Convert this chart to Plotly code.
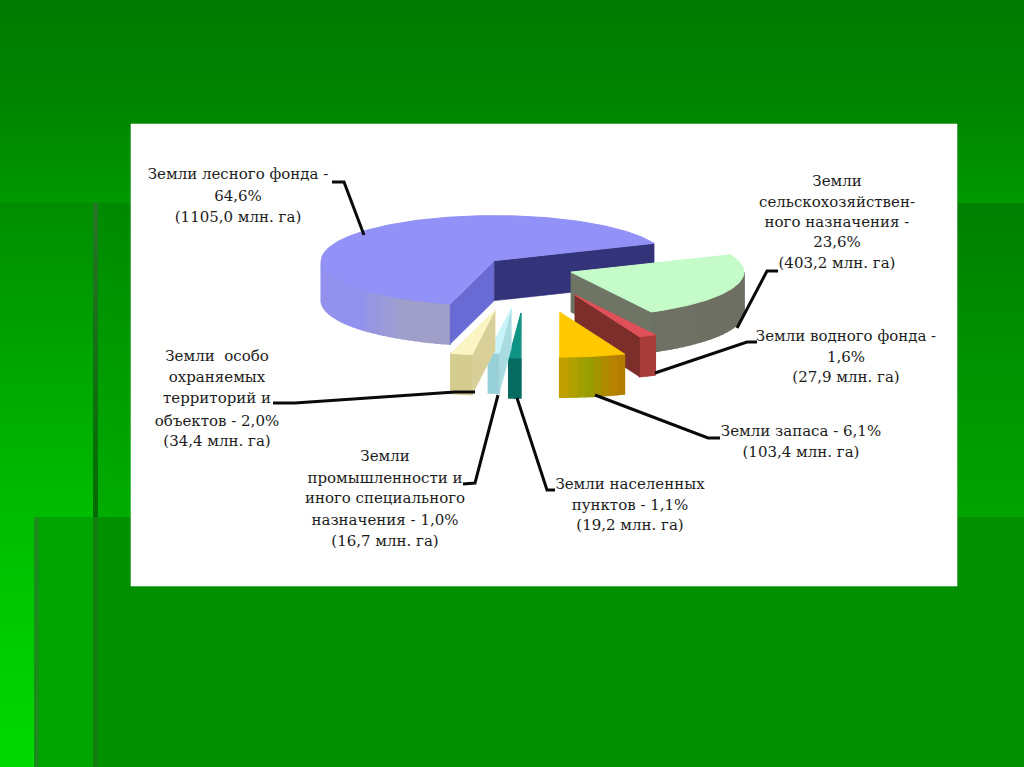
import numpy as np
import plotly.graph_objects as go

# ---------- data ----------
CATEGORIES = ["Земли лесного фонда", "Земли сельскохозяйственного назначения", "Земли водного фонда",
              "Земли запаса", "Земли населенных пунктов",
              "Земли промышленности и иного специального назначения",
              "Земли особо охраняемых территорий и объектов"]
PERCENT = [64.6, 23.6, 1.6, 6.1, 1.1, 1.0, 2.0]
AREA_MHA = [1105.0, 403.2, 27.9, 103.4, 19.2, 16.7, 34.4]
EXPLODE = [0.25, 0.27, 0.66, 1.0, 1.0, 0.9, 0.95]

LABEL_LINES = [
    ["Земли лесного фонда -", "64,6%", "(1105,0 млн. га)"],
    ["Земли", "сельскохозяйствен-", "ного назначения -", "23,6%", "(403,2 млн. га)"],
    ["Земли водного фонда -", "1,6%", "(27,9 млн. га)"],
    ["Земли запаса - 6,1%", "(103,4 млн. га)"],
    ["Земли населенных", "пунктов - 1,1%", "(19,2 млн. га)"],
    ["Земли", "промышленности и", "иного специального", "назначения - 1,0%", "(16,7 млн. га)"],
    ["Земли  особо", "охраняемых", "территорий и", "объектов - 2,0%", "(34,4 млн. га)"],
]

# ---------- layout of the picture (pixel-scaled axes) ----------
W, H = 1024, 767
PANEL = (131, 124, 957, 586)
CX, CY, RX, RY, DEPTH = 527, 268, 173, 45, 40
FIRST_ANGLE = 194.8   # clockwise from north, where the first slice starts

LABEL_POS = [
    (238, [175, 197, 218]),
    (837, [182, 203, 223, 243, 264]),
    (846, [337, 358, 378]),
    (801, [432, 453]),
    (630, [485, 506, 526]),
    (385, [457, 479, 499, 521, 542]),
    (217, [357, 378, 399, 422, 442]),
]
LEADERS = [
    ([332, 344, 364], [182, 182, 235]),
    ([778, 767, 737], [271, 271, 328]),
    ([757, 747, 655], [342, 342, 373]),
    ([720, 708, 595], [438, 438, 395]),
    ([555, 547, 517], [490, 490, 398]),
    ([463, 475, 498], [484, 483, 395]),
    ([273, 295, 455, 475], [403, 403, 392, 392]),
]

# top, face at start angle, face at end angle, wall stops (angle, colour)
STYLE = [
    dict(top="#9191f7", f1="#6a6ad4", f2="#33337a",
         wall=[(194, (158, 158, 200)), (212, (160, 160, 205)), (232, (146, 146, 238)), (300, (146, 146, 238))]),
    dict(top="#c4fbc8", f1="#6e6e62", f2="#6f7565",
         wall=[(60, (110, 110, 98)), (160, (112, 114, 102))]),
    dict(top="#e05058", f1="#7c2e2a", f2="#7c2e2a",
         wall=[(150, (168, 60, 56)), (160, (168, 60, 56))]),
    dict(top="#ffc800", f1="#c09000", f2="#c09000",
         wall=[(156, (176, 120, 0)), (163, (184, 132, 0)), (171, (150, 160, 0)), (180, (200, 160, 0))]),
    dict(top="#0e9484", f1="#066b60", f2="#066b60",
         wall=[(178, (6, 107, 96)), (186, (6, 107, 96))]),
    dict(top="#c8f4f8", f1="#a8dce0", f2="#a8dce0",
         wall=[(182, (152, 208, 216)), (190, (152, 208, 216))]),
    dict(top="#fbf5c4", f1="#d8d098", f2="#d8d098",
         wall=[(186, (212, 204, 144)), (196, (212, 204, 144))]),
]


def background():
    yy, xx = np.mgrid[0:H, 0:W].astype(float)
    g = np.interp(yy, [0, 100, 300, 500, 767], [122, 128, 156, 187, 218])
    r = np.zeros_like(g)
    b = np.zeros_like(g)
    # second panel
    m1 = (xx >= 93) & (yy >= 203)
    g1 = np.interp(yy, [203, 517], [128, 164]) + np.interp(xx, [93, 300], [10, 0])
    g = np.where(m1, g1, g)
    # top band on the right is a touch lighter than the far top
    m = (yy < 203)
    g = np.where(m, g + np.interp(yy, [0, 203], [0, 10]), g)
    # third panel
    g = np.where((xx >= 34) & (xx < 93) & (yy >= 517), 164, g)
    g = np.where((xx >= 93) & (yy >= 517), 144, g)
    # bevels
    s = (xx >= 93) & (xx < 98) & (yy >= 203) & (yy < 517)
    g = np.where(s, np.interp(yy, [203, 517], [118, 108]), g)
    r = np.where(s, np.interp(yy, [203, 517], [40, 0]), r)
    b = np.where(s, np.interp(yy, [203, 517], [40, 0]), b)
    s = (xx >= 34) & (xx < 39) & (yy >= 517)
    g = np.where(s, 140, g); r = np.where(s, 26, r); b = np.where(s, 26, b)
    s = (xx >= 93) & (xx < 98) & (yy >= 517)
    g = np.where(s, 126, g); r = np.where(s, 18, r); b = np.where(s, 18, b)
    return np.dstack([r, g, b]).astype(np.uint8)


def rim(theta, ox, oy, dz=0.0):
    t = np.radians(theta)
    return ox + RX * np.sin(t), oy - RY * np.cos(t) + dz


def polygon(xs, ys, color, name=None, lw=0.6):
    return go.Scatter(x=list(xs), y=list(ys), mode="lines", fill="toself", fillcolor=color,
                      line=dict(color=color, width=lw), hoverinfo="skip", showlegend=False, name=name)


def blend(stops, a):
    ang = [s[0] for s in stops]
    rgb = [np.interp(a, ang, [s[1][i] for s in stops]) for i in range(3)]
    return "rgb(%d,%d,%d)" % tuple(rgb)


fig = go.Figure()
fig.add_trace(go.Image(z=background(), x0=0.5, y0=0.5, dx=1, dy=1, hoverinfo="skip"))
x0, y0, x1, y1 = PANEL
fig.add_trace(polygon([x0, x1, x1, x0, x0], [y0, y0, y1, y1, y0], "#ffffff", "panel"))

total = sum(PERCENT)
start = FIRST_ANGLE
for pct, expl, st, cat in zip(PERCENT, EXPLODE, STYLE, CATEGORIES):
    sweep = 360.0 * pct / total
    end = start + sweep
    mid = np.radians((start + end) / 2)
    ox = CX + expl * RX * np.sin(mid)
    oy = CY - expl * RY * np.cos(mid)

    # outer wall: the front part of the arc, in short pieces so that its shade can change
    a0, a1 = max(start, 90.0), min(end, 270.0)
    if a1 > a0:
        n = max(2, int((a1 - a0) / 2.5))
        edges = np.linspace(a0, a1, n + 1)
        for u, v in zip(edges[:-1], edges[1:]):
            sub = np.linspace(u, v, 4)
            xa, ya = rim(sub, ox, oy)
            xs = list(xa) + list(xa[::-1]) + [xa[0]]
            ys = list(ya) + list((ya + DEPTH)[::-1]) + [ya[0]]
            fig.add_trace(polygon(xs, ys, blend(st["wall"], (u + v) / 2), lw=1.6))

    # radial cut faces, only those turned to the viewer
    for ang, normal, colr in ((start, start - 90, st["f1"]), (end, end + 90, st["f2"])):
        if np.cos(np.radians(normal)) < -1e-6:
            ex, ey = rim(ang, ox, oy)
            fig.add_trace(polygon([ox, ex, ex, ox, ox], [oy, ey, ey + DEPTH, oy + DEPTH, oy], colr))

    # top
    th = np.linspace(start, end, max(8, int(sweep)))
    xa, ya = rim(th, ox, oy)
    fig.add_trace(polygon([ox] + list(xa) + [ox], [oy] + list(ya) + [oy], st["top"], cat, lw=1))
    start = end % 360

for lx, ly in LEADERS:
    fig.add_trace(go.Scatter(x=lx, y=ly, mode="lines", line=dict(color="#0a0a0a", width=3),
                             hoverinfo="skip", showlegend=False))

tx, ty, tt = [], [], []
for (cx, ys), lines in zip(LABEL_POS, LABEL_LINES):
    for y, s in zip(ys, lines):
        tx.append(cx); ty.append(y); tt.append(s)
fig.add_trace(go.Scatter(x=tx, y=ty, text=tt, mode="text", textposition="middle center",
                         textfont=dict(family="DejaVu Serif", size=15, color="#1c1c1c"),
                         hoverinfo="skip", showlegend=False))

fig.update_layout(width=W, height=H, margin=dict(l=0, r=0, t=0, b=0), showlegend=False,
                  paper_bgcolor="#008800", plot_bgcolor="#008800",
                  xaxis=dict(range=[0, W], visible=False, fixedrange=True),
                  yaxis=dict(range=[H, 0], visible=False, fixedrange=True))
fig.write_html("out.html", config=dict(displayModeBar=False),
               post_script="document.body.style.margin='0';document.documentElement.style.overflow='hidden';")
